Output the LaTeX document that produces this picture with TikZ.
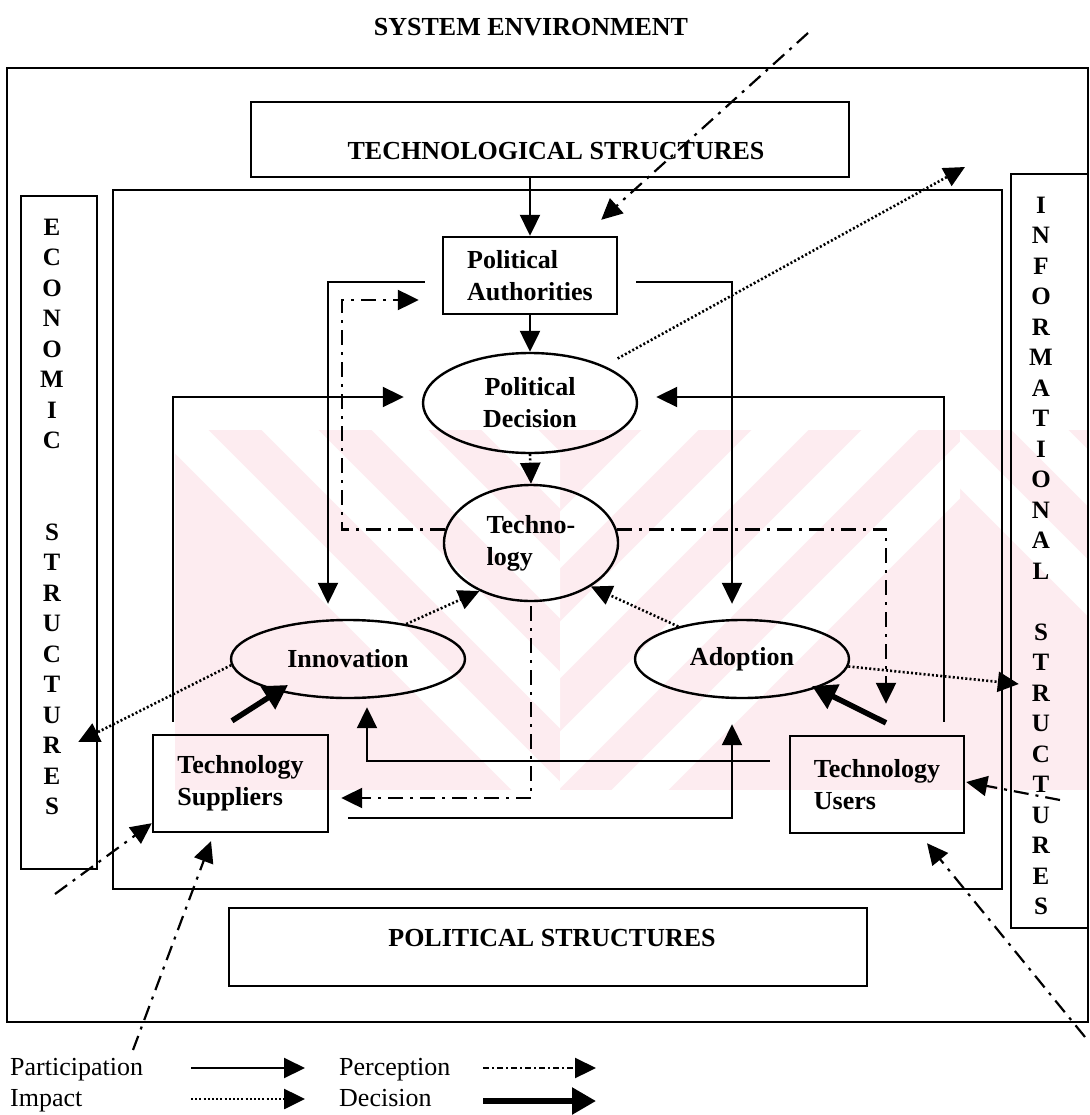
\documentclass[tikz,border=0pt]{standalone}
\usepackage{fontspec}
\setmainfont{Liberation Serif}
\usetikzlibrary{arrows.meta,shapes.geometric,calc}
\definecolor{wmpink}{RGB}{253,236,240}
\begin{document}
\begin{tikzpicture}[x=1pt,y=-1pt,
  every node/.style={font=\fontsize{26}{32}\selectfont\bfseries},
  box/.style={draw,line width=2.4pt,inner sep=0pt,align=left},
  oval/.style={draw,ellipse,line width=2.4pt,inner sep=0pt,align=center},
  caption/.style={anchor=base,inner sep=0pt},
  column/.style={anchor=north,inner sep=0pt,align=center,font=\fontsize{25}{30.5}\selectfont\bfseries},
  frame/.style={line width=2.4pt},
  tip/.style={-{Triangle[length=21pt,width=20pt]}},
  part/.style={tip,line width=2pt},
  impact/.style={tip,line width=2.6pt,dash pattern=on 2pt off 2.2pt},
  percep/.style={tip,line width=2.2pt,dash pattern=on 15pt off 7pt on 3pt off 7pt},
  decis/.style={-{Triangle[length=24pt,width=26pt]},line width=5.5pt},
  legend/.style={font=\fontsize{26}{32}\selectfont\mdseries,anchor=base west,inner sep=0pt},
]
\useasboundingbox (0,0) rectangle (1089,1115);

% faint striped background band
\begin{scope}
  \clip (175,430) rectangle (1089,790);
  \fill[wmpink] (175,430) rectangle (1089,790);
  \begin{scope}
    \clip (175,430) rectangle (560,790);
    \foreach \s in {150,260,370,480}
      \draw[white,line width=40pt] (\s,400) -- ++(420,420);
  \end{scope}
  \begin{scope}
    \clip (560,430) rectangle (960,790);
    \foreach \s in {700,810,920,1030}
      \draw[white,line width=40pt] (\s,400) -- ++(-420,420);
  \end{scope}
  \begin{scope}
    \clip (960,430) rectangle (1089,790);
    \foreach \s in {900,1010}
      \draw[white,line width=40pt] (\s,400) -- ++(420,420);
  \end{scope}
\end{scope}

% environment frames
\draw[frame] (7,68) rectangle (1088,1022);
\draw[frame] (113,190) rectangle (1002,889);

\node[caption] (env) at (531,36) {SYSTEM ENVIRONMENT};

% surrounding structures
\node[box,minimum width=598pt,minimum height=75pt] (tsbox) at (550,139.5) {};
\node[caption] (tslabel) at (556,160) {TECHNOLOGICAL STRUCTURES};
\node[box,minimum width=638pt,minimum height=78pt] (psbox) at (548,947) {};
\node[caption] (pslabel) at (552,946) {POLITICAL STRUCTURES};
\node[box,minimum width=76pt,minimum height=673pt] (econ) at (59,532.5) {};
\node[column] (econtext) at (52,218.5)
  {E\\C\\O\\N\\O\\M\\I\\C\\[61pt]S\\T\\R\\U\\C\\T\\U\\R\\E\\S};
\node[box,minimum width=77pt,minimum height=754pt] (info) at (1049.5,551) {};
\node[column] (infotext) at (1041,196.5)
  {I\\N\\F\\O\\R\\M\\A\\T\\I\\O\\N\\A\\L\\[30.45pt]S\\T\\R\\U\\C\\T\\U\\R\\E\\S};

% system elements
\node[box,minimum width=174pt,minimum height=77pt] (pa) at (530,275.5) {Political\\Authorities};
\node[oval,minimum width=214pt,minimum height=100pt] (pd) at (530,403) {Political\\Decision};
\node[oval,minimum width=174pt,minimum height=116pt,align=left] (tech) at (531,543) {Techno-\\logy};
\node[oval,minimum width=234pt,minimum height=78pt] (inn) at (348,659) {Innovation};
\node[oval,minimum width=214pt,minimum height=78pt] (adop) at (742,659) {Adoption};
\node[box,minimum width=175pt,minimum height=97pt] (sup) at (240.5,783.5) {Technology\\Suppliers};
\node[box,minimum width=174pt,minimum height=97pt] (usr) at (877,784.5) {Technology\\Users};

% participation
\draw[part] (pa.north |- tsbox.south) -- (pa.north);
\draw[part,line width=2.4pt] (pa.south) -- (pd.north);
\draw[part] ($(pa.west)+(-17,6)$) -| ($(inn.north)+(-20,-15)$);
\draw[part] ($(pa.east)+(18,6)$) -| ($(adop.north)+(-10,-15)$);
\draw[part] ($(sup.north)+(-67.5,-12)$) |- ($(pd.west)+(-18,-6)$);
\draw[part] ($(usr.north)+(67,-13)$) |- ($(pd.east)+(18,-6)$);
\draw[part] ($(usr.west)+(-19,-23.5)$) -| ($(inn.south)+(19,8)$);
\draw[part] ($(sup.east)+(19,34.5)$) -| ($(adop.south)+(-10,25)$);

% impact
\coordinate (impfree) at (965,167);
\draw[impact] (pd.south) -- (tech.north);
\draw[impact] (inn.31) -- (tech.223);
\draw[impact] (adop.153) -- (tech.-36);
\draw[impact] (inn.183) -- ($(econ.east)+(-20,209.5)$);
\draw[impact] (adop.-4) -- ($(info.west)+(9,133)$);
\draw[impact] ($(pd.27)+(14,-7)$) -- (impfree);

% perception
\coordinate (percA) at (808,33);
\coordinate (percB) at (55,894);
\coordinate (percC) at (133,1050);
\coordinate (percD) at (1060,800);
\coordinate (percE) at (1085,1037);
\draw[percep] (percA) -- ($(pa.north east)+(-17,-16)$);
\draw[percep] (tech.171) -| ($(pa.west)+(-100,24.5)$) -- ($(pa.west)+(-23,24.5)$);
\draw[percep] (tech.9) -| ($(usr.north)+(9,-31)$);
\draw[percep] ($(tech.south)+(0,4)$) |- ($(sup.east)+(12,14.5)$);
\draw[percep] (percB) -- ($(sup.south west)+(0,-10)$);
\draw[percep] (percC) -- ($(sup.south)+(-29.5,8)$);
\draw[percep] (percD) -- ($(usr.east)+(1,-2.5)$);
\draw[percep] (percE) -- ($(usr.south)+(50,9)$);

% decision
\draw[decis] ($(sup.north)+(-8.5,-13)$) -- ($(inn.center)+(-60,26)$);
\draw[decis] ($(usr.north)+(9,-12)$) -- ($(adop.center)+(70,27)$);

% legend
\node[legend] (lgpart) at (10,1075) {Participation};
\node[legend] (lgimp) at (10,1106) {Impact};
\node[legend] (lgperc) at (339,1075) {Perception};
\node[legend] (lgdec) at (339,1106) {Decision};
\coordinate (lgpartA) at (191,1068);
\coordinate (lgpartB) at (305,1068);
\coordinate (lgimpA) at (191,1099);
\coordinate (lgimpB) at (305,1099);
\coordinate (lgpercA) at (483,1068);
\coordinate (lgpercB) at (596,1068);
\coordinate (lgdecA) at (483,1101);
\coordinate (lgdecB) at (596,1101);
\draw[part] (lgpartA) -- (lgpartB);
\draw[impact] (lgimpA) -- (lgimpB);
\draw[percep,dash pattern=on 6pt off 3pt on 2pt off 3pt] (lgpercA) -- (lgpercB);
\draw[decis] (lgdecA) -- (lgdecB);
\end{tikzpicture}
\end{document}
